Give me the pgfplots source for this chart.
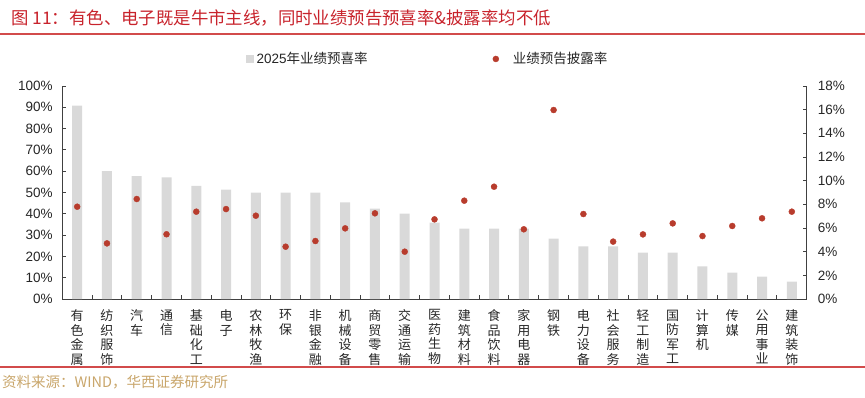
\documentclass[border=0pt]{standalone}
\usepackage{pgfplots}
\pgfplotsset{compat=1.18}
\usepackage{fontspec}
\setmainfont{Liberation Sans}
\newfontfamily\cjk{Noto Sans CJK SC}
\definecolor{barGray}{HTML}{D9D9D9}
\definecolor{dotRed}{HTML}{B83C2D}
\definecolor{titleRed}{HTML}{C8232C}
\definecolor{lineRed}{HTML}{D24B4B}
\definecolor{srcGold}{HTML}{C9A66B}
\definecolor{axisGray}{HTML}{404040}
\definecolor{txt}{HTML}{262626}
\begin{document}
\begin{tikzpicture}
\useasboundingbox (0,0) rectangle (865pt,397pt);
\begin{axis}[
  at={(62.3pt,98pt)}, anchor=south west,
  scale only axis, width=744.4pt, height=213pt,
  xmin=-0.5, xmax=24.5, ymin=0, ymax=100,
  axis x line*=bottom, axis y line*=left,
  axis line style={draw=axisGray, line width=0.9pt},
  tick align=inside,
  major tick length=4pt, minor tick length=4pt,
  xtick={0,...,24},
  xticklabels={{有\\色\\金\\属},{纺\\织\\服\\饰},{汽\\车},{通\\信},{基\\础\\化\\工},{电\\子},{农\\林\\牧\\渔},{环\\保},{非\\银\\金\\融},{机\\械\\设\\备},{商\\贸\\零\\售},{交\\通\\运\\输},{医\\药\\生\\物},{建\\筑\\材\\料},{食\\品\\饮\\料},{家\\用\\电\\器},{钢\\铁},{电\\力\\设\\备},{社\\会\\服\\务},{轻\\工\\制\\造},{国\\防\\军\\工},{计\\算\\机},{传\\媒},{公\\用\\事\\业},{建\\筑\\装\\饰}},
  xticklabel style={align=center, font=\cjk\fontsize{13}{14.5}\selectfont, text=txt, inner sep=0pt, anchor=north, yshift=-10.5pt},
  major x tick style={draw=none},
  minor xtick={0.5,1.5,...,23.5},
  minor x tick style={draw=axisGray, line width=0.9pt},
  ytick={0,10,...,100},
  yticklabels={0\%,10\%,20\%,30\%,40\%,50\%,60\%,70\%,80\%,90\%,100\%},
  y tick style={draw=axisGray, line width=0.9pt},
  yticklabel style={font=\fontsize{13.5}{16}\selectfont, text=txt, inner sep=0pt, anchor=east, xshift=-9.5pt},
]
\addplot[ybar, bar width=10pt, fill=barGray, draw=none] coordinates {
(0,90.8) (1,60.0) (2,57.7) (3,57.1) (4,53.1) (5,51.3) (6,50.0) (7,50.0) (8,50.0) (9,45.4) (10,42.4) (11,40.1) (12,35.8) (13,33.0) (14,33.0) (15,33.0) (16,28.3) (17,24.7) (18,24.7) (19,21.8) (20,21.8) (21,15.3) (22,12.4) (23,10.5) (24,8.1)};
\end{axis}
\begin{axis}[
  at={(62.3pt,98pt)}, anchor=south west,
  scale only axis, width=744.4pt, height=213pt,
  xmin=-0.5, xmax=24.5, ymin=0, ymax=18,
  axis x line=none, axis y line*=right,
  axis line style={draw=axisGray, line width=0.9pt},
  tick align=inside, major tick length=4pt,
  ytick={0,2,...,18},
  yticklabels={0\%,2\%,4\%,6\%,8\%,10\%,12\%,14\%,16\%,18\%},
  y tick style={draw=axisGray, line width=0.9pt},
  yticklabel style={font=\fontsize{13.5}{16}\selectfont, text=txt, inner sep=0pt, anchor=west, xshift=11pt},
  legend columns=2,
  legend style={at={(0.2468,1.127)}, anchor=west, draw=none, fill=none, inner sep=0pt,
    font=\fontsize{13.5}{16}\selectfont, text=txt, nodes={inner sep=0pt},
    /tikz/every odd column/.append style={column sep=3pt},
    /tikz/every even column/.append style={column sep=125pt}},
]
\addlegendimage{legend image code/.code={\fill[barGray] (0pt,-3.5pt) rectangle (7pt,3.5pt);}}
\addlegendentry{2025{\cjk 年业绩预喜率}}
\addplot[only marks, mark=*, mark size=3pt, color=dotRed, mark options={draw=dotRed, fill=dotRed},
  legend image code/.code={\fill[dotRed] (3pt,0pt) circle (3pt); \path[draw=none,fill=none] (0pt,-0.1pt) rectangle (17pt,0.1pt);}] coordinates {
(0,7.8) (1,4.7) (2,8.45) (3,5.47) (4,7.38) (5,7.6) (6,7.04) (7,4.42) (8,4.9) (9,5.97) (10,7.24) (11,4.0) (12,6.73) (13,8.31) (14,9.49) (15,5.89) (16,15.97) (17,7.18) (18,4.85) (19,5.46) (20,6.39) (21,5.32) (22,6.17) (23,6.82) (24,7.38)};
\addlegendentry{{\cjk 业绩预告披露率}}
\end{axis}
\node[anchor=west, text=titleRed, font=\cjk\fontsize{17.4}{19}\selectfont, inner sep=0pt] at (11pt,379pt) {图 11：有色、电子既是牛市主线，同时业绩预告预喜率\&披露率均不低};
\draw[lineRed, line width=1.2pt] (0pt,363pt) -- (865pt,363pt);
\draw[lineRed, line width=1.2pt] (0pt,30pt) -- (865pt,30pt);
\node[anchor=west, text=srcGold, font=\cjk\fontsize{14.5}{16}\selectfont, inner sep=0pt] at (2pt,14.5pt) {资料来源：WIND，华西证券研究所};
\end{tikzpicture}
\end{document}
